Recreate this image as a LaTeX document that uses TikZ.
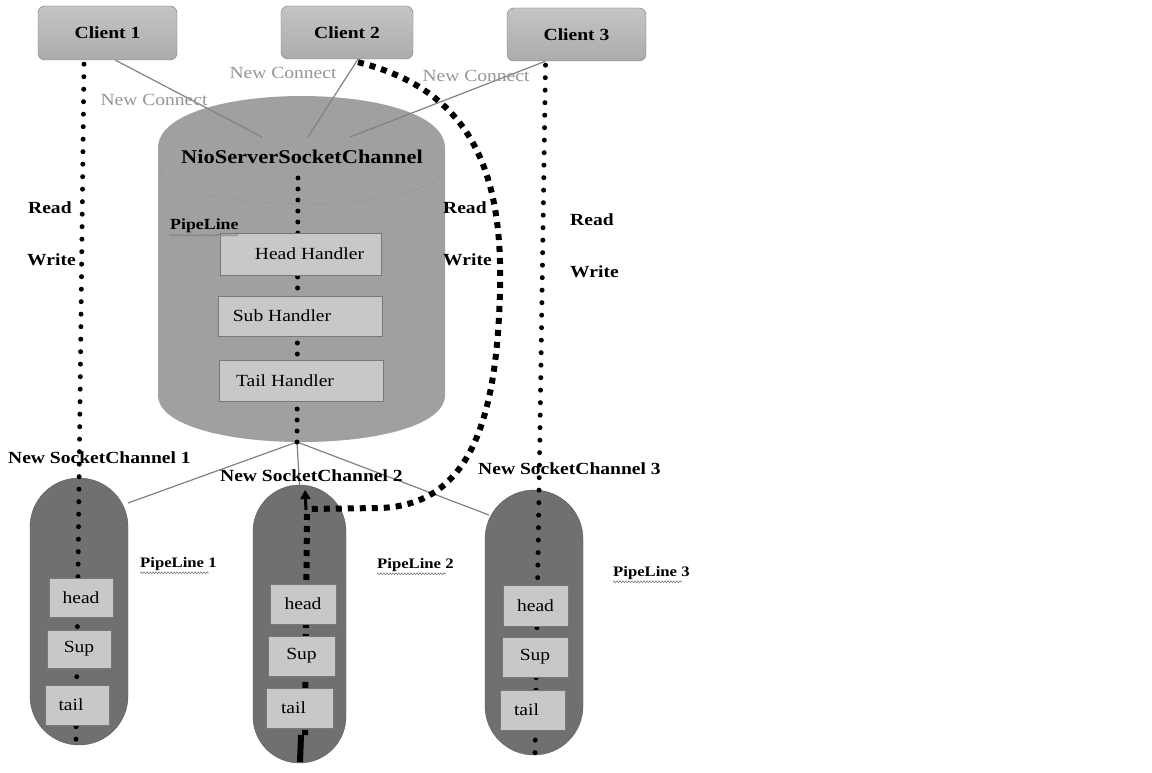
\documentclass[tikz,border=0pt]{standalone}
\usepackage{fontspec}
\setmainfont{Liberation Serif}[FakeStretch=1.15]
\usetikzlibrary{arrows.meta,decorations.pathmorphing}
\definecolor{clientfill}{RGB}{172,172,172}
\definecolor{clienttop}{RGB}{196,196,196}
\definecolor{cylfill}{RGB}{160,160,160}
\definecolor{capfill}{RGB}{112,112,112}
\definecolor{boxfill}{RGB}{200,200,200}
\definecolor{boxline}{RGB}{120,120,120}
\definecolor{conncol}{RGB}{130,130,130}
\definecolor{ncol}{RGB}{150,150,150}
\begin{document}
\begin{tikzpicture}[x=1pt,y=-1pt,
  client/.style={draw=boxline, rounded corners=7pt, top color=clienttop, bottom color=clientfill,
    font=\fontsize{17}{20}\selectfont\bfseries, inner sep=0pt},
  hbox/.style={draw=boxline, line width=1pt, fill=boxfill, font=\fontsize{17}{20}\selectfont, inner sep=0pt},
  sbox/.style={draw=boxline, line width=1pt, fill=boxfill, font=\fontsize{17}{20}\selectfont, inner sep=0pt},
  capsule/.style={fill=capfill, draw=capfill!80!black, inner sep=0pt},
  lbl/.style={font=\fontsize{17}{20}\selectfont\bfseries, inner sep=0pt, anchor=west},
  nclbl/.style={font=\fontsize{17}{20}\selectfont, text=ncol, inner sep=0pt},
  pllbl/.style={font=\fontsize{14.5}{17}\selectfont\bfseries, inner sep=0pt, anchor=west},
  conn/.style={draw=conncol, line width=1.2pt},
  dotline/.style={line width=5pt, line cap=round, dash pattern=on 0pt off 12.5pt},
  cdotline/.style={line width=5pt, line cap=round, dash pattern=on 0pt off 11pt},
  thickdash/.style={line width=6pt, dash pattern=on 6pt off 6pt},
  wavy/.style={draw=gray, line width=0.6pt, decorate, decoration={snake, amplitude=1pt, segment length=3pt}}
]
\useasboundingbox (0,0) rectangle (1152,773);
\fill[white] (0,0) rectangle (1152,773);

% lines from cylinder bottom to socket channels (under capsules)
\coordinate (cylbot) at (297,442);
\coordinate (c1in) at (262,137);
\coordinate (c2in) at (308,137);
\coordinate (c3in) at (350,137);

% cylinder
\fill[cylfill] (158,148) .. controls (158,78.7) and (445,78.7) .. (445,148)
  -- (445,395) .. controls (445,457.7) and (158,457.7) .. (158,395) -- cycle;
\draw[gray!85, line width=0.8pt, dash pattern=on 1.5pt off 2pt]
  (160,170) .. controls (175,215) and (430,215) .. (443,170);

% capsules
\node[capsule, minimum width=98, minimum height=267, rounded corners=49pt] (p1) at (79,611.5) {};
\node[capsule, minimum width=93, minimum height=278, rounded corners=46.5pt] (p2) at (299.5,624) {};
\node[capsule, minimum width=98, minimum height=265, rounded corners=49pt] (p3) at (534,622.5) {};

% connectors cylinder -> socket channels
\draw[conn] (cylbot) -- (128,503);
\draw[conn] (cylbot) -- (p2.north);
\draw[conn] (cylbot) -- (489,515);

% clients
\node[client, minimum width=139, minimum height=54] (cl1) at (107.5,33) {Client 1};
\node[client, minimum width=132, minimum height=53] (cl2) at (347,32.5) {Client 2};
\node[client, minimum width=139, minimum height=53] (cl3) at (576.5,34.5) {Client 3};

% connectors clients -> cylinder
\draw[conn] ([xshift=8pt]cl1.south) -- (c1in);
\draw[conn] ([xshift=11pt]cl2.south) -- (c2in);
\draw[conn] ([xshift=-31pt]cl3.south) -- (c3in);

% dotted read/write lines
\coordinate (e1) at (76,742);
\coordinate (e3) at (535,757);
\draw[dotline] ([xshift=-23.5pt,yshift=-4pt]cl1.south) -- (e1);
\draw[dotline] ([xshift=-31pt,yshift=-4pt]cl3.south) -- (e3);
\draw[cdotline] (298,178) -- (cylbot);

% client 2 thick dashed path
\coordinate (a2) at (305,490);
\draw[thickdash] ([xshift=11pt,yshift=-3pt]cl2.south) .. controls (470,90) and (503,170) .. (500,290)
  .. controls (497,420) and (470,505) .. (380,508) -- (308,509);
\draw[line width=3pt, -{Triangle[length=9pt,width=10pt]}] (306,510) -- (a2);
\draw[thickdash] (307,514) -- (305,735);
\draw[line width=6pt] (301,735) -- (300,762);

% handler boxes
\node[hbox, minimum width=161, minimum height=42] (hh) at (300.5,254) {\hspace*{18pt}Head Handler};
\node[hbox, minimum width=164, minimum height=40] (sh) at (300,316) {Sub Handler\hspace*{36pt}};
\node[hbox, minimum width=164, minimum height=41] (th) at (301,380.5) {Tail Handler\hspace*{32pt}};

% pipeline boxes
\node[sbox, minimum width=64, minimum height=39] (h1) at (81,597.5) {head};
\node[sbox, minimum width=64, minimum height=38] (s1) at (79,649) {Sup};
\node[sbox, minimum width=64, minimum height=40] (t1) at (77,705) {tail\hspace*{12pt}};
\node[sbox, minimum width=66, minimum height=40] (h2) at (303,604) {head};
\node[sbox, minimum width=67, minimum height=40] (s2) at (301.5,656) {Sup};
\node[sbox, minimum width=67, minimum height=40] (t2) at (299.5,708) {tail\hspace*{12pt}};
\node[sbox, minimum width=65, minimum height=41] (h3) at (535.5,605.5) {head};
\node[sbox, minimum width=66, minimum height=40] (s3) at (535,657) {Sup};
\node[sbox, minimum width=65, minimum height=40] (t3) at (532.5,710) {tail\hspace*{12pt}};

% texts
\node[font=\fontsize{19.5}{22}\selectfont\bfseries, inner sep=0pt] (nio) at (302,157) {NioServerSocketChannel};
\node[pllbl, font=\fontsize{15.5}{18}\selectfont\bfseries] (pl0) at (170,226) {PipeLine};
\draw[wavy] ([yshift=-2pt]pl0.south west) -- ([yshift=-2pt]pl0.south east);

\node[nclbl] (nc1) at (154,100) {New Connect};
\node[nclbl] (nc2) at (283,73) {New Connect};
\node[nclbl] (nc3) at (476,76) {New Connect};

\node[lbl] (r1) at (28,208) {Read};
\node[lbl] (w1) at (27,260) {Write};
\node[lbl] (r2) at (443,208) {Read};
\node[lbl] (w2) at (443,260) {Write};
\node[lbl] (r3) at (570,220) {Read};
\node[lbl] (w3) at (570,272) {Write};

\node[lbl] (ns1) at (8,458) {New SocketChannel 1};
\node[lbl] (ns2) at (220,476) {New SocketChannel 2};
\node[lbl] (ns3) at (478,469) {New SocketChannel 3};

\node[pllbl] (pl1) at (140,564) {PipeLine 1};
\node[pllbl] (pl2) at (377,565) {PipeLine 2};
\node[pllbl] (pl3) at (613,573) {PipeLine 3};
\draw[wavy] ([yshift=-2pt]pl1.south west) -- ([yshift=-2pt,xshift=-8pt]pl1.south east);
\draw[wavy] ([yshift=-2pt]pl2.south west) -- ([yshift=-2pt,xshift=-8pt]pl2.south east);
\draw[wavy] ([yshift=-2pt]pl3.south west) -- ([yshift=-2pt,xshift=-8pt]pl3.south east);
\end{tikzpicture}
\end{document}
